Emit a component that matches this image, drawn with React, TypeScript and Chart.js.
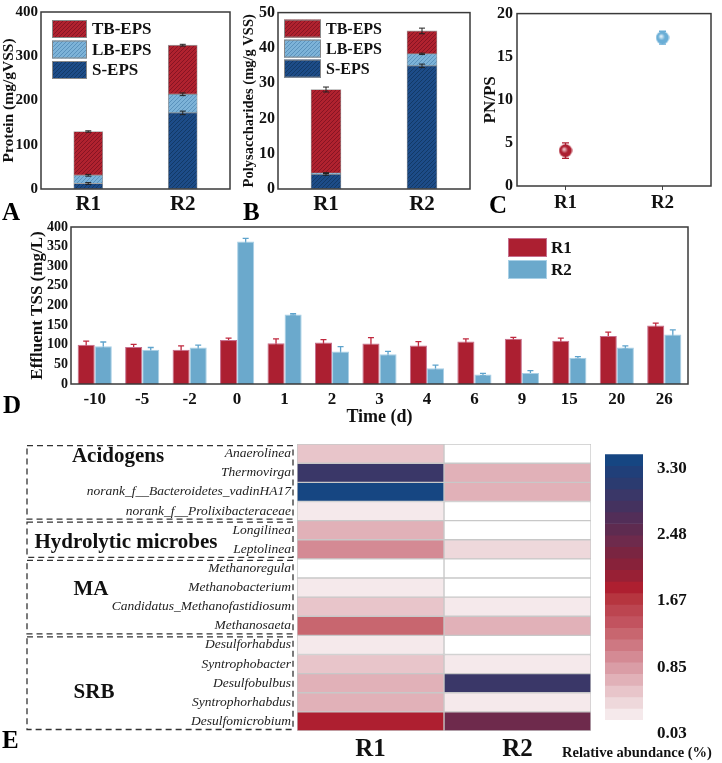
import React, { useEffect, useRef } from 'react';
import { Chart, registerables } from 'chart.js';

Chart.register(...registerables);

const SERIF = "'Liberation Serif', 'Times New Roman', 'DejaVu Serif', serif";
Chart.defaults.font.family = SERIF;
Chart.defaults.color = '#111';

// ---------- Panel A / B : EPS fractions ----------
const reactors = ['R1', 'R2'];
const proteinS = [12.5, 172];
const proteinLB = [18.5, 42];
const proteinTB = [99, 111];
const proteinErrS = [2, 4];
const proteinErrLB = [2, 3];
const proteinErrTB = [1.5, 2];

const polyS = [4.2, 34.9];
const polyLB = [0.3, 3.4];
const polyTB = [23.7, 6.5];
const polyErrS = [0.3, 0.5];
const polyErrLB = [0.1, 0.2];
const polyErrTB = [0.7, 0.8];

// ---------- Panel C : PN/PS ----------
const pnps = [4.1, 17.2];
const pnpsErr = [0.9, 0.75];

// ---------- Panel D : effluent TSS ----------
const days = ['-10', '-5', '-2', '0', '1', '2', '3', '4', '6', '9', '15', '20', '26'];
const tssR1 = [100, 94, 87, 112, 104, 106, 103, 98, 108, 115, 110, 122, 149];
const tssR1Err = [9, 7, 10, 5, 11, 7, 15, 10, 7, 4, 7, 10, 6];
const tssR2 = [96, 87, 93, 363, 177, 83, 76, 40, 24, 28, 67, 93, 126];
const tssR2Err = [11, 6, 6, 8, 2, 12, 7, 8, 3, 6, 3, 4, 12];

// ---------- Panel E : heatmap ----------
const genera = [
  'Anaerolinea',
  'Thermovirga',
  'norank_f__Bacteroidetes_vadinHA17',
  'norank_f__Prolixibacteraceae',
  'Longilinea',
  'Leptolinea',
  'Methanoregula',
  'Methanobacterium',
  'Candidatus_Methanofastidiosum',
  'Methanosaeta',
  'Desulforhabdus',
  'Syntrophobacter',
  'Desulfobulbus',
  'Syntrophorhabdus',
  'Desulfomicrobium',
];
const r1Abundance = [0.38, 2.8, 3.25, 0.1, 0.52, 0.8, 0, 0.1, 0.38, 1.1, 0.1, 0.38, 0.52, 0.52, 1.65];
const r2Abundance = [0, 0.52, 0.52, 0, 0, 0.2, 0, 0, 0.1, 0.52, 0, 0.1, 2.8, 0.1, 2.2];
const groupNames = ['Acidogens', 'Hydrolytic microbes', 'MA', 'SRB'];
const groupFirstRow = [0, 4, 6, 10];
const groupLastRow = [3, 5, 9, 14];
const colorbarTicks = [0.03, 0.85, 1.67, 2.48, 3.3];
// colour steps, top (high) to bottom (low)
const colorbarColors = [
  '#164682', '#203F79', '#2B3B70', '#3A3768', '#44325F', '#522E58', '#5E2B50', '#6E2A4C',
  '#7A2541', '#88223A', '#982035', '#AE1F30', '#B6353F', '#BC4550', '#C2535F', '#C8666F',
  '#CE7882', '#D48A94', '#DA9DA6', '#E1B1B8', '#E8C5CA', '#EED8DB', '#F5E9EB',
];

const RED = '#AC1F31';
const BLUE = '#6BA9CC';

function colorFor(v: number) {
  const min = colorbarTicks[0];
  const max = colorbarTicks[colorbarTicks.length - 1];
  if (v < min) return '#FFFFFF';
  const n = colorbarColors.length;
  const step = (max - min) / n;
  const idx = Math.max(0, Math.min(n - 1, Math.floor((v - min) / step)));
  return colorbarColors[n - 1 - idx];
}

function makeHatch(base: string, line: string) {
  const c = document.createElement('canvas');
  c.width = 4;
  c.height = 4;
  const g = c.getContext('2d')!;
  g.fillStyle = base;
  g.fillRect(0, 0, 4, 4);
  g.strokeStyle = line;
  g.lineWidth = 1;
  g.beginPath();
  g.moveTo(0, 4); g.lineTo(4, 0);
  g.moveTo(-1, 1); g.lineTo(1, -1);
  g.moveTo(3, 5); g.lineTo(5, 3);
  g.stroke();
  return g.createPattern(c, 'repeat');
}

function makeBall(color: string, light: string) {
  const c = document.createElement('canvas');
  c.width = 14;
  c.height = 14;
  const g = c.getContext('2d')!;
  const grad = g.createRadialGradient(5.5, 5.5, 0.5, 7, 7, 7);
  grad.addColorStop(0, light);
  grad.addColorStop(0.45, color);
  grad.addColorStop(1, color);
  g.fillStyle = grad;
  g.beginPath();
  g.arc(7, 7, 6.5, 0, Math.PI * 2);
  g.fill();
  return c;
}

const framePlugin = {
  id: 'frame',
  afterDraw(chart: any) {
    const { ctx, chartArea: a } = chart;
    ctx.save();
    ctx.strokeStyle = '#3a3a3a';
    ctx.lineWidth = 1.5;
    ctx.strokeRect(a.left, a.top, a.right - a.left, a.bottom - a.top);
    ctx.restore();
  },
};

function errorPlugin(layer: string) {
  const draw = (chart: any) => {
    const ctx = chart.ctx;
    chart.data.datasets.forEach((ds: any, di: number) => {
      const errs = ds.errorBars;
      if (!errs) return;
      const meta = chart.getDatasetMeta(di);
      if (meta.hidden) return;
      const ys = chart.scales[meta.yAxisID];
      meta.data.forEach((el: any, i: number) => {
        const e = errs[i];
        if (e == null) return;
        const d = ys.getPixelForValue(0) - ys.getPixelForValue(e);
        const col = Array.isArray(ds.errorColor) ? ds.errorColor[i] : ds.errorColor;
        const w = ds.errorCap || 3;
        ctx.save();
        ctx.strokeStyle = col;
        ctx.lineWidth = ds.errorWidth || 1.2;
        ctx.beginPath();
        ctx.moveTo(el.x, el.y - d); ctx.lineTo(el.x, el.y + d);
        ctx.moveTo(el.x - w, el.y - d); ctx.lineTo(el.x + w, el.y - d);
        ctx.moveTo(el.x - w, el.y + d); ctx.lineTo(el.x + w, el.y + d);
        ctx.stroke();
        ctx.restore();
      });
    });
  };
  return layer === 'before'
    ? { id: 'errBefore', beforeDatasetsDraw: draw }
    : { id: 'errAfter', afterDatasetsDraw: draw };
}

function boxLegend(o: any) {
  return {
    id: 'boxLegend',
    afterDraw(chart: any) {
      const { ctx, chartArea: a } = chart;
      const items = o.reverse ? [...chart.data.datasets].reverse() : chart.data.datasets;
      ctx.save();
      items.forEach((ds: any, k: number) => {
        const x = a.left + o.x;
        const y = a.top + o.y + k * o.step;
        ctx.fillStyle = ds.backgroundColor;
        ctx.fillRect(x, y, o.w, o.h);
        ctx.strokeStyle = o.border || ds.borderColor;
        ctx.lineWidth = 1;
        ctx.strokeRect(x + 0.5, y + 0.5, o.w - 1, o.h - 1);
        ctx.fillStyle = '#111';
        ctx.font = `bold ${o.size}px ${SERIF}`;
        ctx.textBaseline = 'middle';
        ctx.textAlign = 'left';
        ctx.fillText(ds.label, a.left + o.tx, y + o.h / 2 + 1);
      });
      ctx.restore();
    },
  };
}

const noGrid = { display: false, drawTicks: false };
const noBorder = { display: false };
const base = {
  responsive: false,
  animation: false,
  devicePixelRatio: 1,
  events: [],
};

function makeEps(title: string, max: number, step: number, S: number[], LB: number[], TB: number[],
  eS: number[], eLB: number[], eTB: number[], yWidth: number, titlePad: number, tickSize: number,
  titleSize: number, thick: number, legend: any) {
  return () => {
    const hS = makeHatch('#1D4C88', '#123966');
    const hLB = makeHatch('#7DB3D8', '#5A92BC');
    const hTB = makeHatch('#B0222F', '#861423');
    const common = { errorColor: '#222', errorCap: 3, errorWidth: 1 };
    return {
      type: 'bar',
      data: {
        labels: reactors,
        datasets: [
          { label: 'S-EPS', data: S, backgroundColor: hS, errorBars: eS, ...common },
          { label: 'LB-EPS', data: LB, backgroundColor: hLB, errorBars: eLB, ...common },
          { label: 'TB-EPS', data: TB, backgroundColor: hTB, errorBars: eTB, ...common },
        ],
      },
      options: {
        ...base,
        layout: { padding: { top: 7, right: 10, left: 0, bottom: 0 } },
        plugins: { legend: { display: false }, tooltip: { enabled: false } },
        datasets: { bar: { barThickness: thick, borderColor: 'rgba(90,90,90,0.6)', borderWidth: 0.8, borderSkipped: false } },
        scales: {
          x: {
            stacked: true, grid: noGrid, border: noBorder,
            ticks: { font: { size: 21, weight: 'bold' }, padding: 3 },
            afterFit: (s: any) => { s.height = 36; },
          },
          y: {
            stacked: true, min: 0, max,
            grid: noGrid, border: noBorder,
            ticks: { stepSize: step, autoSkip: false, font: { size: tickSize, weight: 'bold' }, padding: 3 },
            title: { display: true, text: title, font: { size: titleSize, weight: 'bold' }, padding: { top: titlePad, bottom: 0 } },
            afterFit: (s: any) => { s.width = yWidth; },
          },
        },
      },
      plugins: [framePlugin, errorPlugin('after'), boxLegend(legend)],
    };
  };
}

const makeA = makeEps('Protein (mg/gVSS)', 400, 100, proteinS, proteinLB, proteinTB,
  proteinErrS, proteinErrLB, proteinErrTB, 41, 0, 15, 15.5, 29,
  { reverse: true, x: 11, y: 8, step: 20.5, w: 35, h: 18, tx: 51, size: 17, border: '#888' });

const makeB = makeEps('Polysaccharides (mg/g VSS)', 50, 10, polyS, polyLB, polyTB,
  polyErrS, polyErrLB, polyErrTB, 48, 11, 16, 14.5, 30,
  { reverse: true, x: 6, y: 7, step: 20, w: 37, h: 18, tx: 48, size: 16, border: '#888' });

function makeC() {
  const balls = [makeBall(RED, '#F2C9CE'), makeBall('#6AAED6', '#E6F3FA')];
  return {
    type: 'line',
    data: {
      labels: reactors,
      datasets: [{
        label: 'PN/PS', data: pnps, showLine: false,
        pointStyle: balls, pointRadius: 7,
        errorBars: pnpsErr, errorColor: [RED, '#6AAED6'], errorCap: 3.5, errorWidth: 1.3,
      }],
    },
    options: {
      ...base,
      layout: { padding: { top: 7, right: 11, left: 0, bottom: 0 } },
      plugins: { legend: { display: false }, tooltip: { enabled: false } },
      scales: {
        x: {
          offset: true,
          grid: { display: true, drawOnChartArea: false, drawTicks: true, tickLength: 4, color: '#444' },
          border: noBorder,
          ticks: { font: { size: 19, weight: 'bold' }, padding: 2 },
          afterFit: (s: any) => { s.height = 39; },
        },
        y: {
          min: 0, max: 20, grid: noGrid, border: noBorder,
          ticks: { stepSize: 5, autoSkip: false, font: { size: 16, weight: 'bold' }, padding: 4 },
          title: { display: true, text: 'PN/PS', font: { size: 17, weight: 'bold' }, padding: { top: 10, bottom: 0 } },
          afterFit: (s: any) => { s.width = 47; },
        },
      },
    },
    plugins: [errorPlugin('before'), framePlugin],
  };
}

function makeD() {
  return {
    type: 'bar',
    data: {
      labels: days,
      datasets: [
        { label: 'R1', data: tssR1, backgroundColor: RED, borderColor: '#C66F8E', borderWidth: 1,
          errorBars: tssR1Err, errorColor: '#C0283E', errorCap: 3, errorWidth: 1.3 },
        { label: 'R2', data: tssR2, backgroundColor: BLUE, borderColor: '#A9D0E6', borderWidth: 1,
          errorBars: tssR2Err, errorColor: '#5EA3CC', errorCap: 3, errorWidth: 1.3 },
      ],
    },
    options: {
      ...base,
      layout: { padding: { top: 12, right: 34, left: 0, bottom: 0 } },
      plugins: { legend: { display: false }, tooltip: { enabled: false } },
      datasets: { bar: { barPercentage: 1, categoryPercentage: 0.72 } },
      scales: {
        x: {
          grid: noGrid, border: noBorder,
          ticks: { autoSkip: false, font: { size: 17, weight: 'bold' }, padding: 5 },
          title: { display: true, text: 'Time (d)', font: { size: 18, weight: 'bold' }, padding: { top: 0, bottom: 2 } },
          afterFit: (s: any) => { s.height = 46; },
        },
        y: {
          min: 0, max: 400, grid: noGrid, border: noBorder,
          ticks: { stepSize: 50, autoSkip: false, font: { size: 14, weight: 'bold' }, padding: 3 },
          title: { display: true, text: 'Effluent TSS (mg/L)', font: { size: 17, weight: 'bold' }, padding: { top: 27, bottom: 0 } },
          afterFit: (s: any) => { s.width = 71; },
        },
      },
    },
    plugins: [errorPlugin('before'), framePlugin,
      boxLegend({ reverse: false, x: 437, y: 11, step: 22, w: 39, h: 19, tx: 480, size: 17 })],
  };
}

const groupPlugin = {
  id: 'groups',
  afterDraw(chart: any) {
    const { ctx } = chart;
    const y = chart.scales.y;
    const band = y.getPixelForValue(1) - y.getPixelForValue(0);
    const labelRows = [0.17, 4.65, 7.13, 12.5];
    const labelX = [118, 126, 91, 94];
    ctx.save();
    groupNames.forEach((name, i) => {
      const top = y.getPixelForValue(groupFirstRow[i]) - band / 2 + 1.5;
      const bot = y.getPixelForValue(groupLastRow[i]) + band / 2 - 1.5;
      ctx.setLineDash([6, 4]);
      ctx.lineWidth = 1.3;
      ctx.strokeStyle = '#333';
      ctx.strokeRect(27, top, 266, bot - top);
      ctx.setLineDash([]);
      ctx.fillStyle = '#111';
      ctx.font = `bold 21px ${SERIF}`;
      ctx.textAlign = 'center';
      ctx.textBaseline = 'middle';
      ctx.fillText(name, labelX[i], y.getPixelForValue(labelRows[i]));
    });
    ctx.restore();
  },
};

function makeE() {
  return {
    type: 'bar',
    data: {
      labels: genera,
      datasets: [
        { label: 'R1', data: r1Abundance.map(() => 1), backgroundColor: r1Abundance.map(colorFor) },
        { label: 'R2', data: r2Abundance.map(() => 1), backgroundColor: r2Abundance.map(colorFor) },
      ],
    },
    options: {
      ...base,
      indexAxis: 'y',
      layout: { padding: { top: 10, right: 9, left: 0, bottom: 0 } },
      plugins: { legend: { display: false }, tooltip: { enabled: false } },
      datasets: { bar: { barPercentage: 1, categoryPercentage: 1, borderColor: '#C8C8C8', borderWidth: 1, borderSkipped: false } },
      scales: {
        x: {
          type: 'linear', min: 0, max: 2, stacked: true, grid: noGrid, border: noBorder,
          afterBuildTicks: (s: any) => { s.ticks = [{ value: 0.5 }, { value: 1.5 }]; },
          ticks: { callback: (v: any) => reactors[Math.floor(Number(v))], font: { size: 25, weight: 'bold' }, padding: 4 },
          afterFit: (s: any) => { s.height = 32; },
        },
        y: {
          stacked: true, grid: noGrid, border: noBorder,
          ticks: { autoSkip: false, font: { size: 13.5, style: 'italic' }, color: '#222', padding: 6 },
          afterFit: (s: any) => { s.width = 297; },
        },
      },
    },
    plugins: [groupPlugin],
  };
}

const cbTitlePlugin = {
  id: 'cbTitle',
  afterDraw(chart: any) {
    const { ctx, chartArea: a } = chart;
    ctx.save();
    ctx.fillStyle = '#111';
    ctx.font = `bold 14.5px ${SERIF}`;
    ctx.textAlign = 'center';
    ctx.textBaseline = 'middle';
    ctx.fillText('Relative abundance (%)', a.right - 6, a.bottom + 33);
    ctx.restore();
  },
};

function makeColorbar() {
  const min = colorbarTicks[0];
  const max = colorbarTicks[colorbarTicks.length - 1];
  const n = colorbarColors.length;
  const step = (max - min) / n;
  return {
    type: 'bar',
    data: {
      labels: [''],
      datasets: colorbarColors.map((c, i) => ({
        label: c,
        data: [[max - (i + 1) * step, max - i * step]],
        backgroundColor: c,
      })),
    },
    options: {
      ...base,
      layout: { padding: { top: 10, right: 0, left: 60, bottom: 43 } },
      plugins: { legend: { display: false }, tooltip: { enabled: false } },
      datasets: { bar: { grouped: false, barPercentage: 1, categoryPercentage: 1, borderWidth: 0 } },
      scales: {
        x: { display: false },
        y: {
          position: 'right', min, max, grid: noGrid, border: noBorder,
          afterBuildTicks: (s: any) => { s.ticks = colorbarTicks.map((v) => ({ value: v })); },
          ticks: { autoSkip: false, callback: (v: any) => Number(v).toFixed(2), font: { size: 17, weight: 'bold' }, padding: 14, labelOffset: 14 },
          afterFit: (s: any) => { s.width = 79; },
        },
      },
    },
    plugins: [cbTitlePlugin],
  };
}

function ChartBox({ left, top, width, height, make }: any) {
  const ref = useRef<HTMLCanvasElement>(null);
  useEffect(() => {
    const chart = new Chart(ref.current as HTMLCanvasElement, make());
    return () => chart.destroy();
  }, []);
  return (
    <canvas ref={ref} width={width} height={height}
      style={{ position: 'absolute', left, top, width, height }} />
  );
}

const letterStyle = (left: number, top: number): any => ({
  position: 'absolute', left, top, fontFamily: SERIF, fontWeight: 'bold',
  fontSize: 25, lineHeight: '26px', color: '#000',
});

export default function App() {
  return (
    <div style={{ position: 'absolute', left: 0, top: 0, width: 722, height: 763, background: '#fff', overflow: 'hidden' }}>
      <ChartBox left={0} top={0} width={240} height={225} make={makeA} />
      <ChartBox left={230} top={0} width={250} height={225} make={makeB} />
      <ChartBox left={470} top={0} width={252} height={225} make={makeC} />
      <ChartBox left={0} top={215} width={722} height={215} make={makeD} />
      <ChartBox left={0} top={430} width={600} height={333} make={makeE} />
      <ChartBox left={545} top={430} width={177} height={333} make={makeColorbar} />
      <div style={letterStyle(2, 199)}>A</div>
      <div style={letterStyle(243, 199)}>B</div>
      <div style={letterStyle(489, 192)}>C</div>
      <div style={letterStyle(3, 392)}>D</div>
      <div style={letterStyle(2, 727)}>E</div>
    </div>
  );
}
